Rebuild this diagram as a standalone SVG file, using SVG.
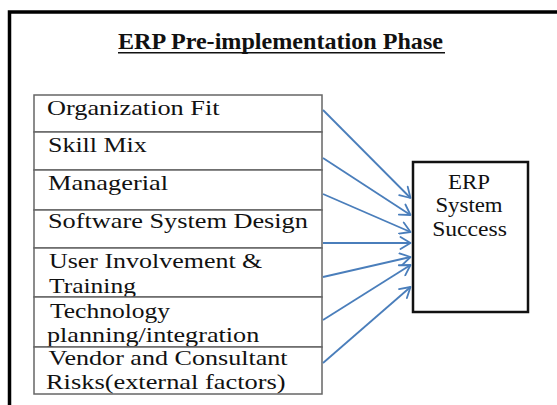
<svg xmlns="http://www.w3.org/2000/svg" width="557" height="405" viewBox="0 0 557 405">
  <style>
    .frame { fill: none; stroke: #000; stroke-width: 3.5; }
    .factor { fill: #fff; stroke: #666; stroke-width: 1.5; }
    .outcome { fill: #fff; stroke: #111; stroke-width: 2.5; }
    .lbl { font-family: 'Liberation Serif'; font-size: 22px; fill: #111; }
    .out { font-family: 'Liberation Serif'; font-size: 20px; fill: #111; text-anchor: middle; }
    .title { font-family: 'Liberation Serif'; font-size: 22.5px; font-weight: bold; fill: #111; }
    .arrow { fill: none; stroke: #4a7ebb; stroke-width: 1.8; marker-end: url(#head); }
  </style>
  <defs>
    <marker id="head" markerUnits="userSpaceOnUse" markerWidth="14" markerHeight="14" viewBox="0 0 14 14" refX="12" refY="7" orient="auto">
      <path d="M2,1 L12,7 L2,13" fill="none" stroke="#4a7ebb" stroke-width="1.8" stroke-linecap="round" stroke-linejoin="round"/>
    </marker>
  </defs>

  <rect width="557" height="405" fill="#fff"/>

  <!-- page frame (runs off the right and bottom edges) -->
  <path class="frame" d="M9.5,420 L9.5,12 L570,12"/>

  <!-- heading -->
  <g id="title">
    <text class="title" transform="translate(118,49) scale(1.072,1)">ERP Pre-implementation Phase</text>
    <line x1="118" y1="52.8" x2="445" y2="52.8" stroke="#111" stroke-width="1.5"/>
  </g>

  <!-- factor boxes (labels are set slightly wide) -->
  <g id="organization-fit">
    <rect class="factor" x="34" y="95" width="288" height="37"/>
    <text class="lbl" transform="translate(47,115) scale(1.195,1)">Organization Fit</text>
  </g>
  <g id="skill-mix">
    <rect class="factor" x="34" y="132" width="288" height="38"/>
    <text class="lbl" transform="translate(48,151.5) scale(1.18,1)">Skill Mix</text>
  </g>
  <g id="managerial">
    <rect class="factor" x="34" y="170" width="288" height="40"/>
    <text class="lbl" transform="translate(48,190) scale(1.2,1)">Managerial</text>
  </g>
  <g id="software-system-design">
    <rect class="factor" x="34" y="210" width="288" height="38"/>
    <text class="lbl" transform="translate(48,228) scale(1.195,1)">Software System Design</text>
  </g>
  <g id="user-involvement">
    <rect class="factor" x="34" y="248" width="288" height="49"/>
    <text class="lbl" transform="translate(49,268) scale(1.18,1)">User Involvement &amp;</text>
    <text class="lbl" transform="translate(49,293) scale(1.16,1)">Training</text>
  </g>
  <g id="technology-planning">
    <rect class="factor" x="34" y="297" width="288" height="50"/>
    <text class="lbl" transform="translate(50,318) scale(1.16,1)">Technology</text>
    <text class="lbl" transform="translate(47,342) scale(1.19,1)">planning/integration</text>
  </g>
  <g id="vendor-risks">
    <rect class="factor" x="34" y="347" width="288" height="47"/>
    <text class="lbl" transform="translate(48.5,365) scale(1.186,1)">Vendor and Consultant</text>
    <text class="lbl" transform="translate(46,388.5) scale(1.2,1)">Risks(external factors)</text>
  </g>

  <!-- outcome box -->
  <g id="erp-system-success">
    <rect class="outcome" x="413" y="162" width="115" height="150"/>
    <text class="out" transform="translate(469,188.5) scale(1.145,1)">ERP</text>
    <text class="out" transform="translate(469,212) scale(1.14,1)">System</text>
    <text class="out" transform="translate(469.5,236) scale(1.18,1)">Success</text>
  </g>

  <!-- connectors: every factor points at the outcome -->
  <g id="connectors">
    <line class="arrow" x1="323" y1="110" x2="410.5" y2="198"/>
    <line class="arrow" x1="323" y1="158" x2="410.5" y2="215"/>
    <line class="arrow" x1="323" y1="194" x2="410.5" y2="232"/>
    <line class="arrow" x1="323" y1="243" x2="410.5" y2="243"/>
    <line class="arrow" x1="323" y1="277" x2="410.5" y2="257"/>
    <line class="arrow" x1="323" y1="320" x2="410.5" y2="265"/>
    <line class="arrow" x1="323" y1="363" x2="410.5" y2="287"/>
  </g>
</svg>
